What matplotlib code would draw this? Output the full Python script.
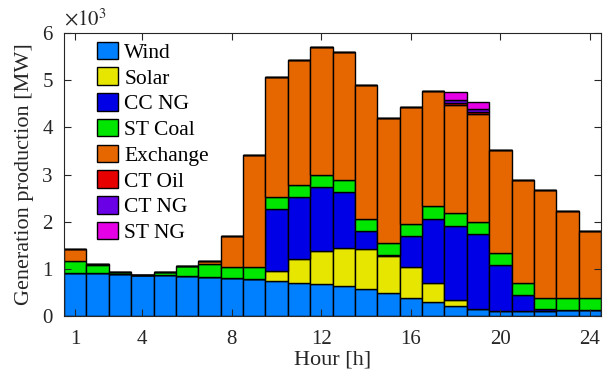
import numpy as np
import matplotlib
matplotlib.use("Agg")
import matplotlib.pyplot as plt

plt.rcParams['font.family'] = ['Liberation Serif', 'DejaVu Serif']
plt.rcParams['mathtext.fontset'] = 'stix'

hours = list(range(1, 25))
sources = ['Wind', 'Solar', 'CC NG', 'ST Coal', 'Exchange', 'CT Oil', 'CT NG', 'ST NG']
colors = ['#0080ff', '#e6e600', '#0000e6', '#00e600', '#e66700', '#e60000', '#6a00e6', '#e600e6']

# Hourly generation by source [MW]
wind = [905, 905, 888, 866, 862, 848, 830, 813, 777, 735, 707, 686,
        643, 572, 495, 389, 290, 212, 142, 113, 113, 113, 134, 134]
solar = [0, 0, 0, 0, 0, 0, 0, 0, 0, 226, 494, 699,
         806, 841, 777, 643, 414, 121, 0, 0, 0, 0, 0, 0]
cc_ng = [0, 0, 0, 0, 0, 0, 0, 0, 0, 1315, 1329, 1343,
         1180, 389, 15, 664, 1362, 1575, 1589, 968, 335, 25, 0, 0]
st_coal = [255, 170, 35, 0, 68, 222, 262, 233, 255, 254, 254, 254,
           254, 247, 255, 255, 264, 269, 255, 255, 262, 250, 254, 254]
exchange = [268, 20, 10, 0, 0, 0, 68, 657, 2375, 2537, 2651, 2721,
            2721, 2841, 2650, 2480, 2440, 2300, 2303, 2183, 2180, 2276, 1838, 1421]
ct_oil = [0] * 17 + [30, 29] + [0] * 5
ct_ng = [0] * 17 + [72, 70] + [0] * 5
st_ng = [0] * 17 + [163, 155] + [0] * 5

series = [wind, solar, cc_ng, st_coal, exchange, ct_oil, ct_ng, st_ng]

fig = plt.figure(figsize=(6.16, 3.78), dpi=100)
ax = fig.add_axes([64 / 616, 1 - 316 / 378, (601 - 64) / 616, (316 - 33) / 378])

bottom = np.zeros(len(hours))
for name, vals, col in zip(sources, series, colors):
    v = np.array(vals, dtype=float) / 1000.0
    ax.bar(hours, v, width=1.0, bottom=bottom, color=col, edgecolor='black',
           linewidth=1.0, label=name)
    bottom += v

ax.set_xlim(0.5, 24.5)
ax.set_ylim(0, 6)
ax.set_xticks([1, 4, 8, 12, 16, 20, 24])
ax.set_yticks(range(0, 7))
ax.tick_params(direction='in', top=True, right=True, length=5, width=0.8,
               labelsize=15, colors='#262626')
ax.tick_params(axis='x', pad=10)
ax.tick_params(axis='y', pad=8)
for s in ax.spines.values():
    s.set_color('#262626')
    s.set_linewidth(0.8)

ax.set_xlabel('Hour [h]', fontsize=16, color='#262626', labelpad=1)
ax.set_ylabel('Generation production [MW]', fontsize=16, color='#262626', labelpad=6)
ax.text(0.0, 1.01, r'$\times 10^3$', transform=ax.transAxes, fontsize=15,
        color='#262626', ha='left', va='bottom')

leg = ax.legend(loc='upper left', bbox_to_anchor=(0.045, 1.0), frameon=False,
                fontsize=15.5, handlelength=1.0, handleheight=0.88,
                labelspacing=0.21, handletextpad=0.28, borderaxespad=0.0)

fig.savefig('out.png', dpi=100)
